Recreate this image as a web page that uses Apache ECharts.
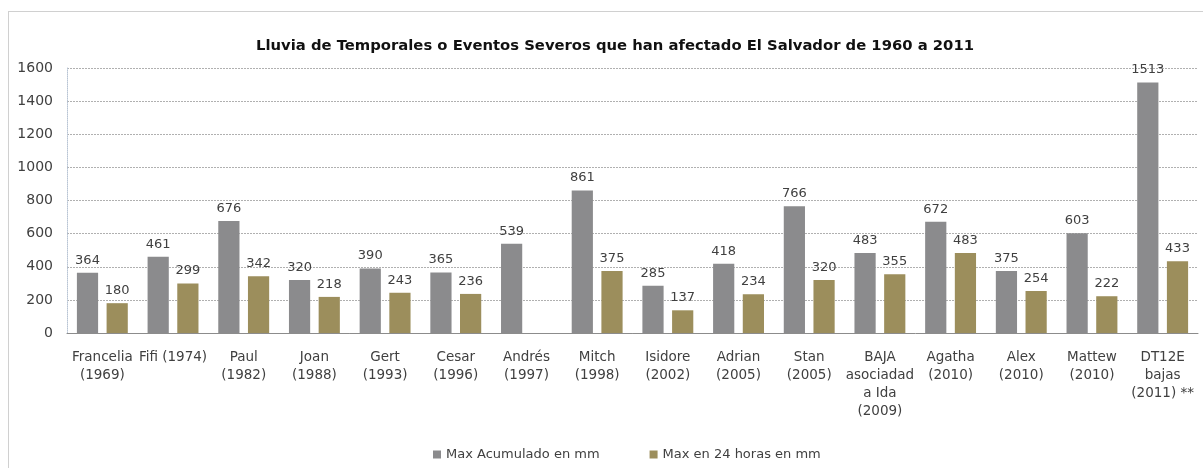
<!DOCTYPE html>
<html>
<head>
<meta charset="utf-8">
<script src="https://cdn.jsdelivr.net/npm/echarts@6/dist/echarts.min.js"></script>
<style>
html,body{margin:0;padding:0;background:#fff;overflow:hidden;}
#frame{position:absolute;left:8px;top:11px;width:1220px;height:480px;border:1px solid #d0d0d0;box-sizing:border-box;}
#chart{position:absolute;left:0;top:0;width:1203px;height:468px;}
</style>
</head>
<body>
<div id="frame"></div>
<div id="chart"></div>
<script>
const titleText = 'Lluvia de Temporales o Eventos Severos que han afectado El Salvador de 1960 a 2011';
const categories = [
  'Francelia\n(1969)', 'Fifi (1974)', 'Paul\n(1982)', 'Joan\n(1988)', 'Gert\n(1993)',
  'Cesar\n(1996)', 'Andrés\n(1997)', 'Mitch\n(1998)', 'Isidore\n(2002)', 'Adrian\n(2005)',
  'Stan\n(2005)', 'BAJA\nasociadad\na Ida\n(2009)', 'Agatha\n(2010)', 'Alex\n(2010)',
  'Mattew\n(2010)', 'DT12E\nbajas\n(2011) **'
];
const seriesNames = ['Max Acumulado en mm', 'Max en 24 horas en mm'];
const maxAcumulado = [364, 461, 676, 320, 390, 365, 539, 861, 285, 418, 766, 483, 672, 375, 603, 1513];
const max24h = [180, 299, 342, 218, 243, 236, null, 375, 137, 234, 320, 355, 483, 254, 222, 433];
const yTicks = [0, 200, 400, 600, 800, 1000, 1200, 1400, 1600];

const font = '"DejaVu Sans", sans-serif';
const chart = echarts.init(document.getElementById('chart'));
const labelStyle = {show: true, position: 'top', color: '#404040', fontSize: 13, fontFamily: font, distance: 6};
chart.setOption({
  animation: false,
  title: {
    text: titleText, left: 610, textAlign: 'center', top: 34,
    textStyle: {fontSize: 14.8, fontWeight: 'bold', color: '#111', fontFamily: font}
  },
  legend: {
    top: 443, left: 428, itemWidth: 8, itemHeight: 8, itemGap: 50, icon: 'rect',
    textStyle: {fontSize: 13, color: '#404040', fontFamily: font},
    data: seriesNames
  },
  grid: {left: 67, right: 5, top: 68, bottom: 135},
  xAxis: {
    type: 'category', data: categories,
    axisLine: {lineStyle: {color: '#8c8c8c', width: 1}},
    axisTick: {show: false},
    axisLabel: {interval: 0, color: '#404040', fontSize: 13.5, fontFamily: font, lineHeight: 18, margin: 15}
  },
  yAxis: {
    type: 'value', min: yTicks[0], max: yTicks[yTicks.length - 1], interval: 200,
    axisLine: {show: true, lineStyle: {color: '#b8c4d4', type: 'dotted'}},
    axisTick: {show: false},
    axisLabel: {color: '#404040', fontSize: 14, fontFamily: font, margin: 14,
      formatter: function (v) { return String(v); }},
    splitLine: {lineStyle: {color: '#b0b0b0', type: [2, 1], width: 1}}
  },
  series: [
    {name: seriesNames[0], type: 'bar', data: maxAcumulado, barGap: '40%', barCategoryGap: '28%',
     itemStyle: {color: '#8b8b8d'}, label: labelStyle},
    {name: seriesNames[1], type: 'bar', data: max24h,
     itemStyle: {color: '#9c8e5c'}, label: labelStyle}
  ]
});
</script>
</body>
</html>
